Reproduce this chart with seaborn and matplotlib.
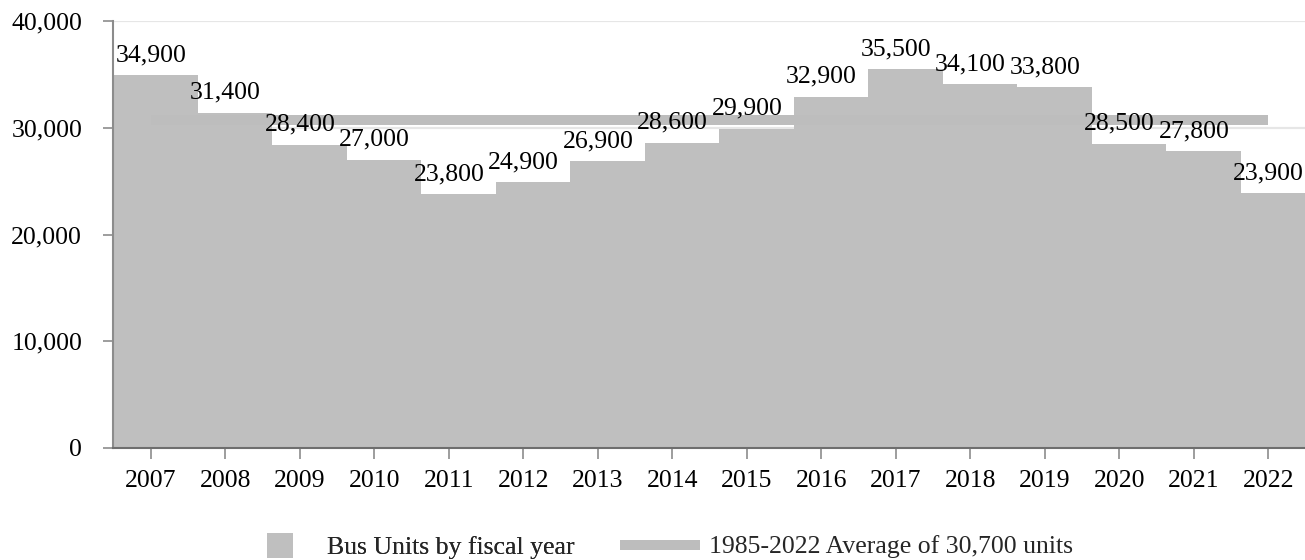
import matplotlib
matplotlib.use("Agg")
import matplotlib.pyplot as plt
import seaborn as sns
import pandas as pd
from matplotlib.patches import Patch
from matplotlib.lines import Line2D
from matplotlib.ticker import FuncFormatter, MultipleLocator

years = ["2007", "2008", "2009", "2010", "2011", "2012", "2013", "2014",
         "2015", "2016", "2017", "2018", "2019", "2020", "2021", "2022"]
units = [34900, 31400, 28400, 27000, 23800, 24900, 26900, 28600,
         29900, 32900, 35500, 34100, 33800, 28500, 27800, 23900]
average = 30700
bar_label = "Bus Units by fiscal year"
avg_label = "1985-2022 Average of 30,700 units"

sns.set_theme(style="white")
plt.rcParams["font.family"] = ["Liberation Serif", "DejaVu Serif"]

BAR = "#BFBFBF"
LINE = "#BDBDBD"
FS = 18.5

df = pd.DataFrame({"year": years, "units": units})

fig = plt.figure(figsize=(13.05, 5.6), dpi=100)
ax = fig.add_axes([113 / 1305, 1 - 448 / 560, 1 - 113 / 1305, (448 - 21) / 560])

sns.barplot(data=df, x="year", y="units", color=BAR, width=1.0,
            saturation=1, ax=ax, zorder=2, linewidth=0)

xmin, xmax = -0.51, len(years) - 0.51
shift = 0.13
for i, p in enumerate(ax.patches):
    p.set_x(p.get_x() + shift)
    p.set_edgecolor(BAR)
    p.set_linewidth(0)
    if i == 0:
        right = p.get_x() + p.get_width()
        p.set_x(xmin)
        p.set_width(right - xmin)

ax.plot([0, len(years) - 1], [average, average], color=LINE, lw=7.2,
        solid_capstyle="butt", zorder=3)

for i, v in enumerate(units):
    ax.annotate(f"{v:,}", xy=(i, v), xytext=(0, 10), textcoords="offset points",
                ha="center", va="baseline", fontsize=FS, color="black", zorder=5)

ax.set_xlim(xmin, xmax)
ax.set_ylim(0, 40000)
ax.yaxis.set_major_locator(MultipleLocator(10000))
ax.yaxis.set_major_formatter(FuncFormatter(lambda v, p: f"{int(v):,}"))
ax.grid(axis="y", color="#E6E6E6", lw=1.6, zorder=0)
ax.set_axisbelow(True)
ax.set_xlabel("")
ax.set_ylabel("")

for s in ["top", "right"]:
    ax.spines[s].set_visible(False)
ax.spines["left"].set_color("#8C8C8C")
ax.spines["left"].set_linewidth(1.5)
ax.spines["bottom"].set_color("#6E6E6E")
ax.spines["bottom"].set_linewidth(1.5)

ax.tick_params(axis="y", length=7.2, width=1.2, color="#8C8C8C", pad=15,
               labelsize=FS, labelcolor="black", left=True)
ax.tick_params(axis="x", length=8, width=1.2, color="#8C8C8C", pad=8,
               labelsize=FS, labelcolor="black", bottom=True)

leg1 = fig.legend(handles=[Patch(facecolor=BAR, edgecolor="none", label=bar_label)],
                  loc="center left", bbox_to_anchor=(267 / 1305, 1 - 546 / 560),
                  frameon=False, fontsize=FS, borderpad=0, borderaxespad=0,
                  handlelength=1.0, handleheight=1.1, handletextpad=1.35)
fig.add_artist(leg1)
fig.legend(handles=[Line2D([], [], color=LINE, lw=7.2, solid_capstyle="butt", label=avg_label)],
           loc="center left", bbox_to_anchor=(620 / 1305, 1 - 547 / 560),
           frameon=False, fontsize=FS, borderpad=0, borderaxespad=0,
           handlelength=3.1, handletextpad=0.35)

fig.savefig("out.png", dpi=100)
